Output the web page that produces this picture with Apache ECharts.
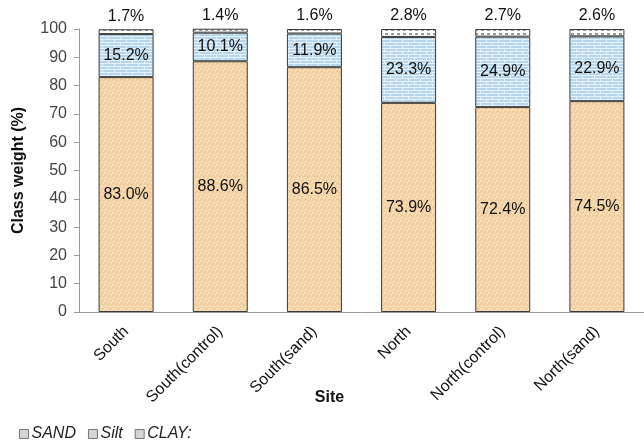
<!DOCTYPE html>
<html>
<head>
<meta charset="utf-8">
<script src="https://cdn.jsdelivr.net/npm/echarts@6/dist/echarts.min.js"></script>
<style>
  html, body { margin: 0; padding: 0; background: #fff; }
  #chart { width: 644px; height: 447px; }
</style>
</head>
<body>
<div id="chart"></div>
<script>
// Soil texture classes per site (percent of sample weight)
const sites = ['South', 'South(control)', 'South(sand)', 'North', 'North(control)', 'North(sand)'];
const sand = [83.0, 88.6, 86.5, 73.9, 72.4, 74.5];
const silt = [15.2, 10.1, 11.9, 23.3, 24.9, 22.9];
const clay = [1.7, 1.4, 1.6, 2.8, 2.7, 2.6];
const yTicks = { min: 0, max: 100, step: 10 };

// Small repeating textures for the three classes
function makeTile(w, h, draw) {
  const c = document.createElement('canvas');
  c.width = w; c.height = h;
  draw(c.getContext('2d'));
  return { image: c, repeat: 'repeat' };
}

const sandFill = makeTile(8, 8, g => {
  g.fillStyle = '#f2d1a4';
  g.fillRect(0, 0, 8, 8);
  g.fillStyle = '#fbe9d0';
  [[1,1],[5,2],[3,5],[7,6],[0,4]].forEach(p => g.fillRect(p[0], p[1], 1.5, 1.5));
  g.fillStyle = '#e6c18e';
  [[3,0],[6,4],[1,7]].forEach(p => g.fillRect(p[0], p[1], 1, 1));
});

const siltFill = makeTile(12, 6, g => {
  g.fillStyle = '#b4d6ee';
  g.fillRect(0, 0, 12, 6);
  g.fillStyle = '#e6f2fb';
  g.fillRect(0, 0, 12, 1);
  g.fillRect(0, 3, 12, 1);
  g.fillRect(0, 1, 1, 2);
  g.fillRect(6, 4, 1, 2);
});

const clayFill = makeTile(6, 4, g => {
  g.fillStyle = '#ffffff';
  g.fillRect(0, 0, 6, 4);
  g.fillStyle = '#9a9a9a';
  g.fillRect(1, 1, 3, 2);
});

const pct = p => p.value.toFixed(1) + '%';
const font = 'Liberation Sans, Arial, sans-serif';
const legendSwatch = { color: '#d4d4d4', borderColor: '#777', borderWidth: 1 };

function segment(name, data, fill, labelPos) {
  return {
    name: name,
    type: 'bar',
    stack: 'total',
    barWidth: 55,
    data: data,
    itemStyle: { color: fill, borderColor: '#3a3a3a', borderWidth: 1 },
    label: {
      show: true,
      position: labelPos,
      formatter: pct,
      color: '#111',
      fontSize: 16,
      fontFamily: font
    },
    emphasis: { disabled: true }
  };
}

const chart = echarts.init(document.getElementById('chart'), null, { renderer: 'canvas' });
chart.setOption({
  animation: false,
  backgroundColor: '#ffffff',
  grid: { left: 79, top: 29, width: 572, height: 283, containLabel: false },
  legend: {
    left: 14,
    top: 421,
    icon: 'rect',
    itemWidth: 9,
    itemHeight: 9,
    itemGap: 12,
    textStyle: { fontSize: 16, fontStyle: 'italic', color: '#222', fontFamily: font, padding: [0, 0, 0, -2] },
    data: [
      { name: 'SAND', itemStyle: legendSwatch },
      { name: 'Silt', itemStyle: legendSwatch },
      { name: 'CLAY:', itemStyle: legendSwatch }
    ]
  },
  xAxis: {
    type: 'category',
    data: sites,
    name: 'Site',
    nameLocation: 'middle',
    nameGap: 78,
    nameMoveOverlap: false,
    nameTextStyle: { fontSize: 16, fontWeight: 'bold', color: '#111', fontFamily: font, padding: [0, 64, 0, 0] },
    axisLine: { lineStyle: { color: '#9a9a9a', width: 1 } },
    axisTick: { show: false },
    axisLabel: { interval: 0, rotate: 45, fontSize: 16, color: '#111', margin: 17, fontFamily: font }
  },
  yAxis: {
    type: 'value',
    min: yTicks.min,
    max: yTicks.max,
    interval: yTicks.step,
    name: 'Class weight (%)',
    nameLocation: 'middle',
    nameGap: 52,
    nameTextStyle: { fontSize: 16, fontWeight: 'bold', color: '#111', fontFamily: font },
    splitLine: { show: false },
    axisLine: { show: true, lineStyle: { color: '#9a9a9a', width: 1 } },
    axisTick: { show: true, length: 5, lineStyle: { color: '#9a9a9a' } },
    axisLabel: { fontSize: 16, color: '#444', margin: 12, fontFamily: font }
  },
  series: [
    segment('SAND', sand, sandFill, 'inside'),
    segment('Silt', silt, siltFill, 'inside'),
    segment('CLAY:', clay, clayFill, 'top')
  ]
});
</script>
</body>
</html>
